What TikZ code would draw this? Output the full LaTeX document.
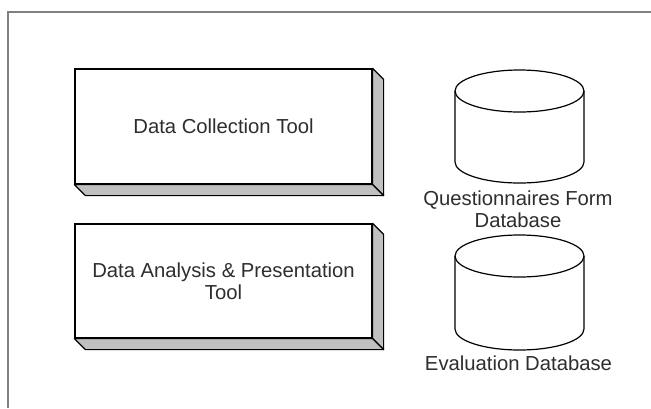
\documentclass[tikz,border=0pt]{standalone}
\usepackage{fontspec}
\setmainfont{Liberation Sans}
\usetikzlibrary{calc}
\definecolor{txtcol}{HTML}{2E2E2E}
\definecolor{facecol}{HTML}{C0C0C0}
\definecolor{framecol}{HTML}{808080}
\tikzset{
  x=0.75pt, y=-0.75pt,
  lbl/.style={text=txtcol, font=\fontsize{15.2}{16.5}\selectfont, align=center, inner sep=0pt},
  toolbox/.style={draw=black, line width=0.9pt, fill=white, minimum width=222.75pt, minimum height=86.25pt, inner sep=0pt, lbl},
  face/.style={draw=black, line width=0.9pt, fill=facecol, line join=round},
  dbline/.style={draw=black, line width=0.9pt},
  frameline/.style={draw=framecol, line width=1.5pt}
}
\newcommand{\threeD}[1]{%
  \path[face] (#1.north east) -- ++(11,11) -- ($(#1.south east)+(11,11)$) -- (#1.south east) -- cycle;
  \path[face] (#1.south west) -- ++(11,11) -- ($(#1.south east)+(11,11)$) -- (#1.south east) -- cycle;
}
\newcommand{\dbcyl}[4]{% name, cx, top cy, bottom cy
  \coordinate (#1) at (#2,{(#3+#4)/2});
  \path[dbline, fill=white] (#2-64.5,#3) -- (#2-64.5,#4) arc[start angle=180, end angle=0, x radius=64.5, y radius=21] -- (#2+64.5,#3);
  \path[dbline] (#2,#3) ellipse [x radius=64.5, y radius=21];
}
\begin{document}
\begin{tikzpicture}
\useasboundingbox (0,0) rectangle (651,408);
\fill[white] (0,0) rectangle (651,408);
\draw[frameline] (651,12) -- (8,12) -- (8,408);

\node[toolbox] (dct) at (223.5,126.5) {};
\threeD{dct}
\node[lbl] (dctl) at (dct.center) {Data Collection Tool};

\node[toolbox, minimum height=85.5pt] (dap) at (223.5,281) {};
\threeD{dap}
\node[lbl] (dapl) at (dap.center) {Data Analysis \& Presentation\\Tool};

\dbcyl{qdb}{519.5}{91}{162}
\node[lbl] (qdbl) at (518,209) {Questionnaires Form\\Database};

\dbcyl{edb}{519.5}{256}{329}
\node[lbl] (edbl) at (518.5,363) {Evaluation Database};
\end{tikzpicture}
\end{document}
